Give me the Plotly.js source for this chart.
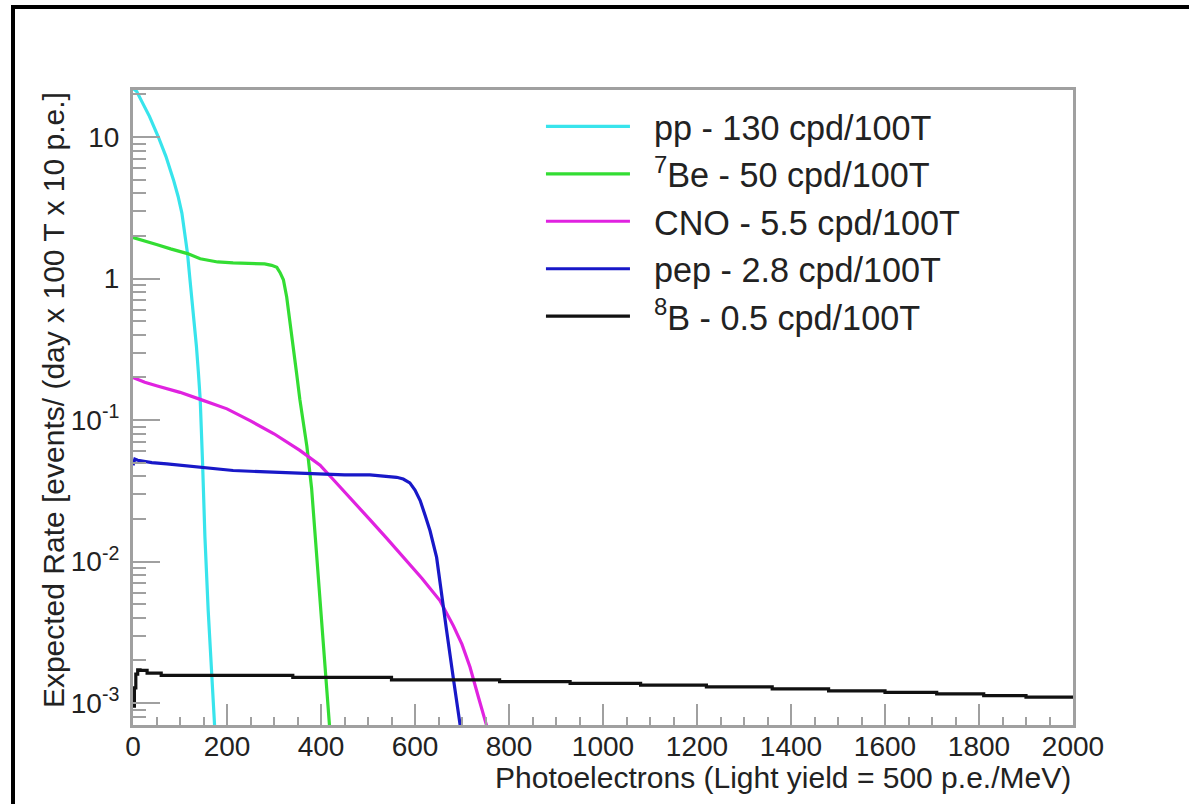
<!DOCTYPE html>
<html>
<head>
<meta charset="utf-8">
<script src="https://cdn.plot.ly/plotly-3.0.1.min.js"></script>
<style>
  html, body { margin: 0; padding: 0; background: #fff; overflow: hidden; }
  #frame { position: absolute; left: 11px; top: 5px; width: 3000px; height: 3000px; border: 4px solid #000; box-sizing: border-box; }
  #chart { position: absolute; left: 0; top: 0; width: 1189px; height: 804px; }
</style>
</head>
<body>
<div id="frame"></div>
<div id="chart"></div>
<script>
// ---- data ----
const ppX = [0, 8, 20, 35, 54, 70, 86, 96, 104, 110, 116, 121, 125, 130, 135, 139, 143, 148, 153, 160, 166, 172, 176];
const ppY = [22, 21, 17.5, 14, 10, 7.3, 5.0, 3.8, 2.9, 2.1, 1.5, 1.0, 0.74, 0.5, 0.33, 0.22, 0.14, 0.05, 0.015, 0.0045, 0.0018, 0.00075, 0.0005];

const be7X = [0, 20, 50, 80, 116, 143, 180, 213, 250, 280, 295, 306, 313, 320, 327, 334, 341, 348, 355, 362, 370, 380, 390, 400, 410, 418];
const be7Y = [1.95, 1.87, 1.74, 1.62, 1.5, 1.38, 1.31, 1.29, 1.28, 1.27, 1.24, 1.2, 1.1, 0.98, 0.74, 0.5, 0.33, 0.215, 0.14, 0.095, 0.065, 0.033, 0.012, 0.0042, 0.0015, 0.0007];

const cnoX = [0, 25, 50, 100, 143, 200, 249, 300, 355, 384, 398, 426, 468, 504, 540, 575, 615, 653, 682, 700, 717, 735, 752, 760];
const cnoY = [0.2, 0.185, 0.175, 0.157, 0.14, 0.12, 0.099, 0.08, 0.061, 0.052, 0.048, 0.038, 0.027, 0.0198, 0.0146, 0.0107, 0.0076, 0.0053, 0.0035, 0.0026, 0.0018, 0.0011, 0.0007, 0.0005];

const pepX = [0, 4, 10, 40, 72, 143, 213, 284, 350, 400, 450, 504, 540, 561, 575, 589, 600, 611, 622, 632, 646, 657, 667, 682, 696, 700];
const pepY = [0.048, 0.053, 0.052, 0.05, 0.049, 0.0465, 0.044, 0.043, 0.0422, 0.0415, 0.041, 0.041, 0.0402, 0.0394, 0.0383, 0.036, 0.032, 0.027, 0.021, 0.0165, 0.0107, 0.0056, 0.0033, 0.00146, 0.0007, 0.0005];

const b8X = [0, 3, 6, 10, 15, 30, 60, 340, 550, 780, 930, 1080, 1220, 1360, 1480, 1600, 1710, 1810, 1900, 2000];
const b8Y = [0.00095, 0.00128, 0.0016, 0.00172, 0.0017, 0.00163, 0.00157, 0.00152, 0.00146, 0.00142, 0.00138, 0.00134, 0.0013, 0.00126, 0.00122, 0.00119, 0.00116, 0.00113, 0.0011, 0.0011];

const seriesNames = [
  'pp - 130 cpd/100T',
  '<sup>7</sup>Be - 50 cpd/100T',
  'CNO - 5.5 cpd/100T',
  'pep - 2.8 cpd/100T',
  '<sup>8</sup>B - 0.5 cpd/100T'
];
const seriesColors = ['#38e4ec', '#33dd33', '#e022e0', '#1818c8', '#111111'];

const yTickVals = [0.001, 0.01, 0.1, 1, 10];
const yTickText = ['10<sup>-3</sup>', '10<sup>-2</sup>', '10<sup>-1</sup>', '1', '10'];
const yMinorVals = [];
[0.0001, 0.001, 0.01, 0.1, 1, 10].forEach(d => { for (let k = 2; k <= 9; k++) yMinorVals.push(d * k); });
const xTickVals = [0, 200, 400, 600, 800, 1000, 1200, 1400, 1600, 1800, 2000];

const xs = [ppX, be7X, cnoX, pepX, b8X];
const ys = [ppY, be7Y, cnoY, pepY, b8Y];

const NB = '\u00a0\u00a0';
const traces = xs.map((x, i) => ({
  type: 'scatter', mode: 'lines', x: x, y: ys[i],
  name: NB + seriesNames[i],
  line: { color: seriesColors[i], width: 3.2, shape: i === 4 ? 'hv' : 'linear' },
  cliponaxis: true
}));

const FONT = 'Liberation Sans, Arial, Helvetica, sans-serif';
const axisGrey = '#a0a0a0';

const layout = {
  width: 1189, height: 804,
  margin: { l: 133, r: 116, t: 90, b: 79, pad: 0 },
  paper_bgcolor: 'rgba(0,0,0,0)',
  plot_bgcolor: '#ffffff',
  font: { family: FONT, color: '#222' },
  showlegend: true,
  legend: {
    x: 0.434, y: 0.988, xanchor: 'left', yanchor: 'top',
    bgcolor: 'rgba(255,255,255,0)', borderwidth: 0,
    font: { family: FONT, size: 34.2, color: '#222' },
    itemwidth: 84, tracegroupgap: 0, itemclick: false
  },
  xaxis: {
    range: [0, 2000], showgrid: false, zeroline: false,
    showline: true, linecolor: axisGrey, linewidth: 3, mirror: true,
    tickmode: 'array', tickvals: xTickVals,
    ticks: 'inside', ticklen: 21, tickwidth: 2, tickcolor: axisGrey,
    tickfont: { family: FONT, size: 28, color: '#222' },
    ticklabelstandoff: -6,
    minor: { dtick: 50, tick0: 0, ticks: 'inside', ticklen: 8, tickwidth: 2, tickcolor: axisGrey, showgrid: false }
  },
  yaxis: {
    type: 'log', range: [Math.log10(7.0e-4), Math.log10(21.5)],
    showgrid: false, zeroline: false,
    showline: true, linecolor: axisGrey, linewidth: 3, mirror: true,
    tickmode: 'array', tickvals: yTickVals, ticktext: yTickText,
    ticks: 'inside', ticklen: 27, tickwidth: 2, tickcolor: axisGrey,
    tickfont: { family: FONT, size: 28, color: '#222' },
    ticklabelstandoff: 5,
    minor: { tickmode: 'array', tickvals: yMinorVals, ticks: 'inside', ticklen: 13, tickwidth: 2, tickcolor: axisGrey, showgrid: false }
  },
  annotations: [
    {
      text: 'Photoelectrons (Light yield = 500 p.e./MeV)',
      xref: 'paper', yref: 'paper', x: 1, y: -0.082, xanchor: 'right', yanchor: 'middle',
      showarrow: false, font: { family: FONT, size: 30, color: '#222' }
    },
    {
      text: 'Expected Rate [events/ (day x 100 T x 10 p.e.]',
      xref: 'paper', yref: 'paper', x: -0.085, y: 1, xanchor: 'center', yanchor: 'top',
      textangle: -90, showarrow: false, font: { family: FONT, size: 30, color: '#222' }
    }
  ]
};

Plotly.newPlot('chart', traces, layout, { displayModeBar: false, staticPlot: true });
</script>
</body>
</html>
